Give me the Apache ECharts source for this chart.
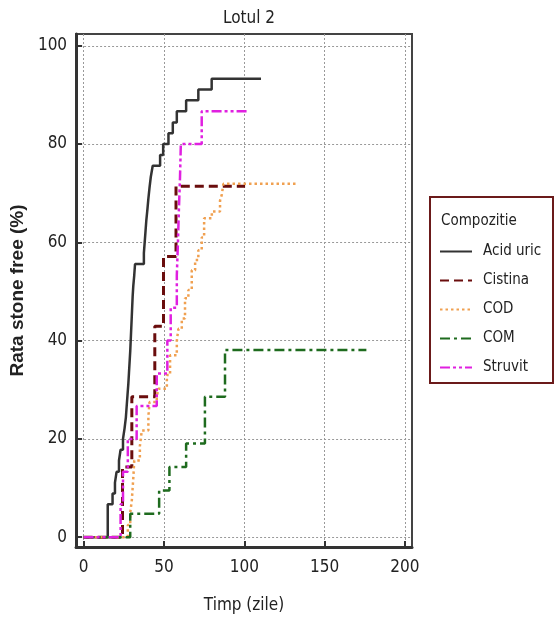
<!DOCTYPE html>
<html>
<head>
<meta charset="utf-8">
<script src="https://cdn.jsdelivr.net/npm/echarts@6/dist/echarts.min.js"></script>
<style>
  html, body { margin: 0; padding: 0; background: #fff; }
  #chart { width: 556px; height: 621px; }
</style>
</head>
<body>
<div id="chart"></div>
<script>
// step points: [zile, rata %] (valoarea dupa salt)
const acidUric = [[0, 0], [15, 6.7], [18, 8.9], [19.5, 11.1], [20.5, 13.3], [22, 15.6], [23, 17.8], [24.5, 20],
  [25.5, 22.2], [26.3, 24.4], [26.8, 26.7], [27.3, 28.9], [27.8, 31.1], [28.2, 33.3], [28.6, 35.6], [29, 37.8],
  [29.3, 40], [29.6, 42.2], [29.9, 44.4], [30.2, 46.7], [30.5, 48.9], [30.9, 51.1], [31.5, 53.3], [32, 55.6],
  [37.5, 57.8], [38, 60], [38.5, 62.2], [39, 64.4], [39.7, 66.7], [40.3, 68.9], [41, 71.1], [41.8, 73.3],
  [43, 75.6], [47.6, 77.8], [49.5, 80], [52.8, 82.2], [55.5, 84.4], [58, 86.7], [63.8, 88.9], [71.4, 91.1],
  [79.7, 93.3], [110.4, 93.3]]
const cistina = [[0, 0], [24.2, 14.3], [30, 28.6], [44.3, 42.9], [49.7, 57.1], [57.5, 71.4], [100.5, 71.4]]
const cod = [[0, 0], [27.5, 2.5], [29, 5], [30, 7.5], [30.5, 10], [31, 12.5], [31.5, 15.6], [35, 18.5],
  [36.2, 21.7], [40.3, 24.5], [41, 27.5], [45.5, 28.5], [46.5, 30.2], [51.8, 33], [53.8, 37], [58, 40],
  [59, 42.4], [61.1, 44.5], [63.1, 48.6], [65.2, 50.3], [67.3, 54.3], [69.4, 56.4], [71.4, 58.4], [73.5, 61],
  [75, 64.9], [79.8, 66.3], [84.9, 68.5], [86, 69.7], [87, 71.9], [132.6, 71.9]]
const com = [[0, 0], [29, 4.76], [47, 9.52], [53.4, 14.29], [63.8, 19.05], [75.5, 28.57], [88, 38.1], [176, 38.1]]
const struvit = [[0, 0], [23, 6.7], [24.5, 13.3], [27.5, 20], [33, 26.7], [45.5, 33.3], [52.1, 40], [54.2, 46.7],
  [58, 53.3], [58.7, 60], [59.3, 66.7], [60, 73.3], [60.5, 80], [73.5, 86.7], [101.5, 86.7]]

const seriesNames = ['Acid uric', 'Cistina', 'COD', 'COM', 'Struvit']
const xTicks = [0, 50, 100, 150, 200]
const yTicks = [0, 20, 40, 60, 80, 100]

const narrow = "'Liberation Sans Narrow', 'DejaVu Sans Condensed', 'Open Sans', sans-serif"

const styles = [
  { color: '#333333', width: 2.5, type: 'solid' },
  { color: '#6a0d0d', width: 3, type: [9, 5] },
  { color: '#f0a050', width: 2.5, type: [2.5, 3] },
  { color: '#1e6b1e', width: 2.5, type: [10, 4, 3, 4] },
  { color: '#e020e0', width: 2.5, type: [10, 3, 3, 3, 3, 3] }
]
const allData = [acidUric, cistina, cod, com, struvit]

const chart = echarts.init(document.getElementById('chart'))

chart.setOption({
  animation: false,
  backgroundColor: '#fff',
  title: {
    text: 'Lotul 2',
    left: 244,
    textAlign: 'center',
    top: 5,
    textStyle: { fontFamily: narrow, fontSize: 17, fontWeight: 'normal', color: '#222' }
  },
  grid: {
    left: 76, top: 34, right: 144, bottom: 74,
    show: true, borderColor: '#444', borderWidth: 2
  },
  xAxis: {
    type: 'value',
    min: -4.7,
    max: 204.4,
    name: 'Timp (zile)',
    nameLocation: 'middle',
    nameGap: 50,
    nameTextStyle: { fontFamily: narrow, fontSize: 17, color: '#222' },
    axisLine: { onZero: false, lineStyle: { color: '#333', width: 3 } },
    axisTick: { inside: true, length: 6, customValues: xTicks, lineStyle: { color: '#333', width: 2 } },
    axisLabel: { customValues: xTicks, margin: 12, fontFamily: narrow, fontSize: 17, color: '#222' },
    splitLine: { show: true, lineStyle: { color: '#999', width: 1, type: [2, 2] } }
  },
  yAxis: {
    type: 'value',
    min: -2,
    max: 102.4,
    name: 'Rata stone free (%)',
    nameLocation: 'middle',
    nameGap: 46,
    nameTextStyle: { fontFamily: 'Liberation Sans, Arial, sans-serif', fontSize: 19, fontWeight: 'bold', color: '#222' },
    axisLine: { onZero: false, lineStyle: { color: '#333', width: 3 } },
    axisTick: { inside: true, length: 6, customValues: yTicks, lineStyle: { color: '#333', width: 2 } },
    axisLabel: { customValues: yTicks, margin: 9, fontFamily: narrow, fontSize: 17, color: '#222' },
    splitLine: { show: true, lineStyle: { color: '#999', width: 1, type: [2, 2] } }
  },
  legend: {
    data: seriesNames,
    orient: 'vertical',
    left: 439,
    top: 244,
    padding: 0,
    itemWidth: 32,
    itemHeight: 14,
    itemGap: 14,
    itemStyle: { opacity: 0 },
    textStyle: { fontFamily: narrow, fontSize: 15, color: '#222', padding: [0, 0, 0, 6] }
  },
  graphic: [
    {
      type: 'rect',
      z: -1,
      shape: { x: 430, y: 197, width: 123, height: 186 },
      style: { fill: '#fff', stroke: '#6b1a1a', lineWidth: 2 }
    },
    {
      type: 'text',
      left: 441,
      top: 214,
      style: { text: 'Compozitie', font: '15px ' + narrow, fill: '#222' }
    }
  ],
  series: allData.map((d, i) => ({
    name: seriesNames[i],
    type: 'line',
    step: 'end',
    data: d,
    symbol: 'none',
    color: styles[i].color,
    lineStyle: styles[i]
  }))
})
</script>
</body>
</html>
